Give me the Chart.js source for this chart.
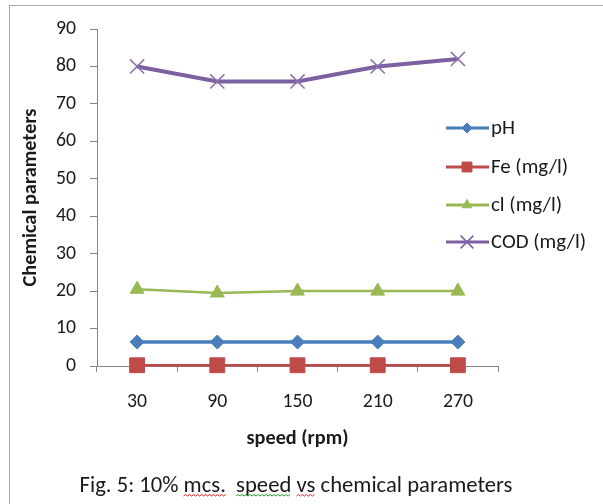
<!DOCTYPE html>
<html>
<head>
<meta charset="utf-8">
<script src="https://cdn.jsdelivr.net/npm/chart.js@4/dist/chart.umd.min.js"></script>
<style>
html,body{margin:0;padding:0;background:#fff;}
#wrap{width:603px;height:504px;position:relative;}
</style>
</head>
<body>
<div id="wrap"><canvas id="c" width="603" height="504"></canvas></div>
<script>
const categories = ['30', '90', '150', '210', '270'];
const phValues  = [6.4, 6.4, 6.4, 6.4, 6.4];
const feValues  = [0.2, 0.2, 0.2, 0.2, 0.2];
const clValues  = [20.5, 19.5, 20, 20, 20];
const codValues = [80, 76, 76, 80, 82];
const yTicks = [0, 10, 20, 30, 40, 50, 60, 70, 80, 90];
const seriesNames = ['pH', 'Fe (mg/l)', 'cl (mg/l)', 'COD (mg/l)'];
const xTitle = 'speed (rpm)';
const yTitle = 'Chemical parameters';
const caption = 'Fig. 5: 10% mcs.  speed vs chemical parameters';

const FONT = "Carlito, Calibri, Lato, 'Open Sans', sans-serif";
const AXIS = '#868686';
const TEXT = '#1a1a1a';

// size a font so that a text fits a target width
const mctx = document.createElement('canvas').getContext('2d');
function fitSize(text, target, weight) {
  mctx.font = (weight || 'normal') + ' 20px ' + FONT;
  return 20 * target / mctx.measureText(text).width;
}
const yTitleSize = fitSize(yTitle, 178, 'bold');
const xTitleSize = fitSize(xTitle, 102, 'bold');
const legendSize = fitSize('COD (mg/l)', 95, 'normal');
const tickSize = fitSize('90', 20, 'normal');

const frame = {
  id: 'frame',
  beforeDraw(chart) {
    const ctx = chart.ctx;
    ctx.save();
    ctx.fillStyle = '#fff';
    ctx.fillRect(0, 0, chart.width, chart.height);
    ctx.strokeStyle = '#a8a8a8';
    ctx.lineWidth = 1;
    ctx.strokeRect(9.5, 5.5, 700, 700);
    ctx.restore();
  }
};

function drawMarker(ctx, style, r, x, y, color, bw) {
  if (Chart.helpers && Chart.helpers.drawPoint) {
    ctx.fillStyle = color; ctx.strokeStyle = color; ctx.lineWidth = bw;
    Chart.helpers.drawPoint(ctx, {pointStyle: style, radius: r, rotation: 0, borderWidth: bw}, x, y);
  }
}

const legendPlugin = {
  id: 'customLegend',
  afterDraw(chart) {
    const ctx = chart.ctx;
    const rows = [128, 167, 205, 242];
    ctx.save();
    chart.data.datasets.forEach((ds, i) => {
      const y = rows[i];
      ctx.strokeStyle = ds.borderColor;
      ctx.lineWidth = 3;
      ctx.beginPath();
      ctx.moveTo(446, y); ctx.lineTo(489, y);
      ctx.stroke();
      drawMarker(ctx, ds.pointStyle, ds.legendRadius, 467, y, ds.pointBackgroundColor, ds.pointBorderWidth);
      ctx.fillStyle = TEXT;
      ctx.font = legendSize.toFixed(2) + 'px ' + FONT;
      ctx.textBaseline = 'middle';
      ctx.textAlign = 'left';
      ctx.fillText(ds.label, 491, y + 1);
    });
    ctx.restore();
  }
};

const captionPlugin = {
  id: 'caption',
  afterDraw(chart) {
    const ctx = chart.ctx;
    ctx.save();
    const size = fitSize(caption, 433, 'normal');
    ctx.font = size.toFixed(2) + 'px ' + FONT;
    const w = ctx.measureText(caption).width;
    const x0 = 296 - w / 2;
    const y = 486;
    ctx.fillStyle = TEXT;
    ctx.textBaseline = 'middle';
    ctx.textAlign = 'left';
    ctx.fillText(caption, x0, y);
    // spell-check squiggles
    const segs = [['mcs.', '#e02020'], ['speed', '#20a020'], ['vs', '#e02020']];
    let searchFrom = 0;
    segs.forEach(([word, col]) => {
      const idx = caption.indexOf(word, searchFrom);
      searchFrom = idx + word.length;
      const sx = x0 + ctx.measureText(caption.slice(0, idx)).width;
      const ex = sx + ctx.measureText(word).width;
      ctx.strokeStyle = col;
      ctx.lineWidth = 1;
      ctx.beginPath();
      const by = 496;
      let up = true;
      ctx.moveTo(sx, by);
      for (let px = sx + 2; px <= ex; px += 2) {
        ctx.lineTo(px, up ? by - 1.5 : by);
        up = !up;
      }
      ctx.stroke();
    });
    ctx.restore();
  }
};

new Chart(document.getElementById('c'), {
  type: 'line',
  data: {
    labels: categories,
    datasets: [
      { label: seriesNames[0], data: phValues, borderColor: '#4a7ebb', backgroundColor: '#4a7ebb',
        pointBackgroundColor: '#4a7ebb', pointBorderColor: '#4a7ebb', pointStyle: 'rectRot',
        pointRadius: 7, pointBorderWidth: 1, borderWidth: 3.5, legendRadius: 5, clip: false },
      { label: seriesNames[1], data: feValues, borderColor: '#be4b48', backgroundColor: '#be4b48',
        pointBackgroundColor: '#be4b48', pointBorderColor: '#be4b48', pointStyle: 'rect',
        pointRadius: 10.5, pointBorderWidth: 1, borderWidth: 2.5, legendRadius: 7, clip: false },
      { label: seriesNames[2], data: clValues, borderColor: '#98b954', backgroundColor: '#98b954',
        pointBackgroundColor: '#98b954', pointBorderColor: '#98b954', pointStyle: 'triangle',
        pointRadius: 8, pointBorderWidth: 1, borderWidth: 2.5, legendRadius: 5.5, clip: false },
      { label: seriesNames[3], data: codValues, borderColor: '#7d60a0', backgroundColor: '#7d60a0',
        pointBackgroundColor: '#7d60a0', pointBorderColor: '#8a70ad', pointStyle: 'crossRot',
        pointRadius: 10, pointBorderWidth: 1.5, borderWidth: 4, legendRadius: 9, clip: false }
    ]
  },
  options: {
    responsive: false,
    animation: false,
    devicePixelRatio: 1,
    layout: { padding: { left: 0, right: 105, top: 29, bottom: 53 } },
    elements: { line: { tension: 0 } },
    plugins: {
      legend: { display: false },
      tooltip: { enabled: false },
      title: { display: false }
    },
    scales: {
      x: {
        type: 'category',
        offset: true,
        grid: { offset: true, drawOnChartArea: false, drawTicks: true, tickLength: 6, color: AXIS, lineWidth: 1 },
        border: { color: AXIS, width: 1 },
        ticks: { color: TEXT, font: { family: FONT, size: tickSize }, padding: 18, maxRotation: 0 },
        title: { display: true, text: xTitle, color: TEXT, font: { family: FONT, size: xTitleSize, weight: 'bold' }, padding: { top: 0, bottom: 0 } },
        afterFit(scale) { scale.height = 85; }
      },
      y: {
        min: 0, max: 90,
        afterBuildTicks(scale) { scale.ticks = yTicks.map(v => ({ value: v })); },
        grid: { drawOnChartArea: false, drawTicks: true, tickLength: 7, color: AXIS, lineWidth: 1 },
        border: { color: AXIS, width: 1 },
        ticks: { color: TEXT, font: { family: FONT, size: tickSize }, padding: 14 },
        title: { display: true, text: yTitle, color: TEXT, font: { family: FONT, size: yTitleSize, weight: 'bold' }, padding: { top: 31 - 0.6 * yTitleSize, bottom: 0 } },
        afterFit(scale) { scale.width = 97; }
      }
    }
  },
  plugins: [frame, legendPlugin, captionPlugin]
});
</script>
</body>
</html>
